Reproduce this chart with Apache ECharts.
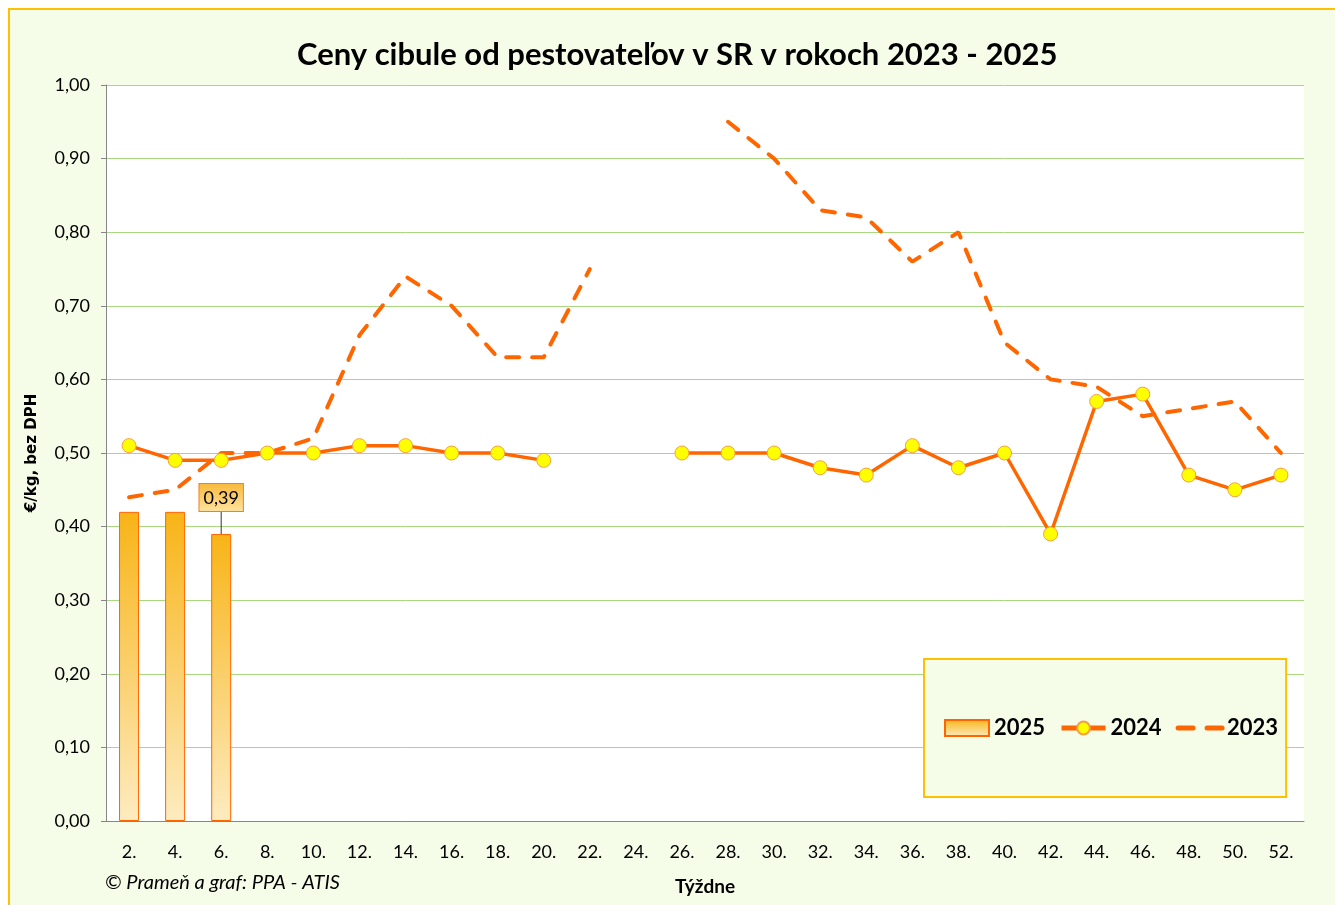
<!DOCTYPE html>
<html>
<head>
<meta charset="utf-8">
<script src="https://cdn.jsdelivr.net/npm/echarts@6/dist/echarts.min.js"></script>
<style>
	html, body { margin: 0; padding: 0; background: #fff; }
	#chart { width: 1335px; height: 905px; }
</style>
</head>
<body>
<div id="chart"></div>
<script>
// týždne
var weeks = ['2.', '4.', '6.', '8.', '10.', '12.', '14.', '16.', '18.', '20.', '22.', '24.', '26.',
	'28.', '30.', '32.', '34.', '36.', '38.', '40.', '42.', '44.', '46.', '48.', '50.', '52.'];
// 2025 - stĺpce
var y2025 = [0.42, 0.42, 0.39];
// 2024 - čiara s bodmi
var y2024 = [0.51, 0.49, 0.49, 0.50, 0.50, 0.51, 0.51, 0.50, 0.50, 0.49, null, null, 0.50,
	0.50, 0.50, 0.48, 0.47, 0.51, 0.48, 0.50, 0.39, 0.57, 0.58, 0.47, 0.45, 0.47];
// 2023 - prerušovaná čiara
var y2023 = [0.44, 0.45, 0.50, 0.50, 0.52, 0.66, 0.74, 0.70, 0.63, 0.63, 0.75, null, null,
	0.95, 0.90, 0.83, 0.82, 0.76, 0.80, 0.65, 0.60, 0.59, 0.55, 0.56, 0.57, 0.50];

var font = "Lato, 'Open Sans', sans-serif";
var orange = '#FF6600';

var chart = echarts.init(document.getElementById('chart'));

// posledný stĺpec má popis
var barData = y2025.map(function(v, i) {
	if (i === y2025.length - 1) {
		return { value: v, label: { show: true } };
	}
	return v;
});

var barGradient = new echarts.graphic.LinearGradient(0, 0, 0, 1, [
	{ offset: 0, color: '#F8B417' },
	{ offset: 1, color: '#FDEBC0' }
]);

var option = {
	backgroundColor: '#fff',
	animation: false,
	textStyle: { fontFamily: font },
	title: {
		text: 'Ceny cibule od pestovateľov v SR v rokoch 2023 - 2025',
		left: 292,
		top: 34,
		textStyle: { fontFamily: font, fontSize: 31, fontWeight: 'bold', color: '#000' }
	},
	graphic: [
		{
			type: 'rect', z: -10, silent: true,
			shape: { x: 9, y: 9, width: 1340, height: 910 },
			style: { fill: '#F5FCE8', stroke: '#FFC000', lineWidth: 2 }
		},
		{
			type: 'text', left: 105, top: 873,
			style: { text: '© Prameň a graf: PPA - ATIS', font: 'italic 20px ' + font, fill: '#000' }
		}
	],
	legend: {
		left: 924,
		top: 659,
		orient: 'horizontal',
		padding: [58, 8, 58, 20],
		backgroundColor: '#F5FCE8',
		borderColor: '#FFC000',
		borderWidth: 2,
		itemWidth: 44,
		itemHeight: 16,
		itemGap: 14,
		textStyle: { fontFamily: font, fontSize: 22, fontWeight: 'bold', color: '#000' },
		data: [
			{ name: '2025', icon: 'rect' },
			{ name: '2024', lineStyle: { width: 5 } },
			{ name: '2023', itemStyle: { opacity: 0 }, lineStyle: { width: 5, type: [15, 14], cap: 'round' } }
		]
	},
	grid: {
		left: 106, right: 31, top: 85, bottom: 84,
		outerBoundsMode: 'none',
		show: true, backgroundColor: '#fff', borderWidth: 0
	},
	xAxis: {
		type: 'category',
		data: weeks,
		name: 'Týždne',
		nameLocation: 'middle',
		nameGap: 56,
		nameTextStyle: { fontFamily: font, fontSize: 19, fontWeight: 'bold', color: '#000' },
		axisLine: { lineStyle: { color: '#868686' } },
		axisTick: { length: 6, lineStyle: { color: '#868686' } },
		axisLabel: { color: '#000', fontSize: 18, margin: 22, fontFamily: font }
	},
	yAxis: {
		type: 'value',
		min: 0,
		max: 1,
		interval: 0.1,
		name: '€/kg, bez DPH',
		nameLocation: 'middle',
		nameGap: 66,
		nameTextStyle: { fontFamily: 'DejaVu Sans', fontSize: 15, fontWeight: 'bold', color: '#000' },
		axisLine: { show: true, lineStyle: { color: '#868686' } },
		axisTick: { show: true, length: 5, lineStyle: { color: '#868686' } },
		axisLabel: {
			color: '#000', fontSize: 18, margin: 16, fontFamily: font,
			formatter: function(v) { return v.toFixed(2).replace('.', ','); }
		},
		splitLine: { lineStyle: { color: '#A8D880', width: 1 } }
	},
	series: [
		{
			name: '2025',
			type: 'bar',
			barWidth: 20,
			data: barData,
			itemStyle: {
				color: barGradient,
				borderColor: orange,
				borderWidth: 1
			},
			label: {
				show: false,
				position: 'top',
				distance: 0,
				formatter: function(p) { return p.value.toFixed(2).replace('.', ','); },
				fontFamily: font,
				fontSize: 18,
				color: '#000',
				padding: [5, 4, 4, 4],
				borderColor: '#F08020',
				borderWidth: 1,
				backgroundColor: new echarts.graphic.LinearGradient(0, 0, 0, 1, [
					{ offset: 0, color: '#F9B93A' },
					{ offset: 1, color: '#FDE3A0' }
				])
			},
			labelLayout: { dy: -23 },
			labelLine: { show: true, length2: 0, lineStyle: { color: '#333', width: 1 } }
		},
		{
			name: '2024',
			type: 'line',
			data: y2024,
			symbol: 'circle',
			symbolSize: 14,
			lineStyle: { color: orange, width: 3.5 },
			itemStyle: { color: '#FFFF00', borderColor: '#F5A040', borderWidth: 1 },
			z: 3
		},
		{
			name: '2023',
			type: 'line',
			data: y2023,
			symbol: 'none',
			lineStyle: { color: orange, width: 4, type: [13, 13], cap: 'round' },
			itemStyle: { color: orange },
			z: 2
		}
	]
};
chart.setOption(option);
</script>
</body>
</html>
